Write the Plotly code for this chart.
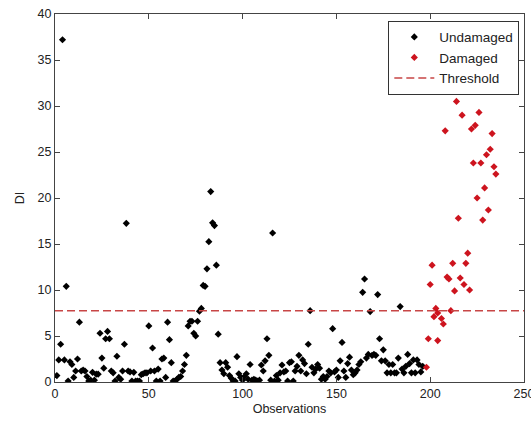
import plotly.graph_objects as go

# ---- data ----
undamaged_x = list(range(1, 197))
undamaged_y = [
    0.7, 2.4, 4.1, 37.2, 2.4, 10.4, 0.1, 2.2, 1.9, 0.5,
    1.2, 2.5, 6.5, 1.2, 1.3, 1.2, 0.6, 0.1, 0.2, 1.05,
    0.2, 0.85, 0.85, 5.3, 2.6, 1.5, 4.7, 5.5, 4.7, 1.2,
    1.0, 0.1, 2.8, 0.5, 0.3, 1.2, 4.1, 17.25, 1.2, 1.1,
    0.1, 1.05, 0.1, 0.1, 0.1, 0.8, 0.9, 1.0, 1.0, 6.1,
    1.2, 3.7, 1.2, 0.1, 1.4, 0.1, 2.5, 2.6, 0.5, 6.5,
    4.6, 2.1, 0.1, 0.1, 0.3, 0.5, 0.6, 1.2, 1.9, 2.9,
    6.1, 6.6, 6.6, 5.3, 5.0, 6.6, 7.7, 8.0, 10.5, 10.4,
    12.3, 15.25, 20.7, 17.3, 17.0, 12.7, 5.2, 2.1, 1.3, 0.9,
    2.1, 1.6, 0.7, 0.4, 0.1, 0.1, 2.75, 0.9, 0.5, 0.2,
    0.6, 0.9, 0.3, 1.9, 0.2, 0.3, 0.2, 0.1, 0.2, 1.85,
    1.2, 2.3, 4.7, 2.9, 0.2, 16.2, 0.1, 0.7, 0.2, 1.0,
    1.85, 1.1, 1.2, 0.1, 2.1, 2.2, 0.1, 1.2, 1.7, 2.9,
    1.2, 2.4, 2.0, 0.9, 4.1, 7.75, 1.6, 1.0, 1.4, 1.9,
    1.5, 0.3, 0.6, 0.3, 0.6, 1.2, 1.0, 5.8, 1.1, 1.3,
    0.5, 2.3, 4.3, 1.2, 0.5, 2.0, 2.7, 1.3, 0.8, 1.0,
    1.3, 1.9, 2.2, 9.75, 11.2, 2.6, 3.0, 7.65, 2.9, 3.0,
    2.9, 9.5, 4.7, 2.3, 3.5, 2.3, 1.0, 1.9, 1.0, 1.9,
    1.0, 1.0, 2.6, 8.2, 1.4, 1.0, 1.7, 3.0, 2.0, 1.0,
    2.4, 1.0, 2.4, 1.9, 1.1, 1.7,
]

damaged_x = [198, 199, 200, 201, 202, 203, 204, 204, 206, 207,
             208, 209, 210, 211, 212, 213, 214, 215, 216, 217,
             218, 219, 220, 221, 222, 223, 224, 225, 226, 227,
             228, 229, 230, 231, 232, 233, 234, 235]
damaged_y = [1.6, 4.7, 10.6, 12.7, 7.1, 8.0, 4.5, 7.5, 6.9, 6.3,
             27.3, 11.4, 11.2, 7.75, 12.9, 9.9, 30.5, 17.8, 11.3, 29.0,
             10.6, 12.9, 14.0, 10.0, 27.5, 23.8, 27.9, 20.0, 29.3, 23.8,
             17.6, 21.1, 24.7, 18.7, 25.3, 27.0, 23.4, 22.6]

threshold = 7.75
x_range = [0, 250]
y_range = [0, 40]
x_ticks = [0, 50, 100, 150, 200, 250]
y_ticks = [0, 5, 10, 15, 20, 25, 30, 35, 40]

FONT = "Liberation Sans, Arial, sans-serif"

fig = go.Figure()
fig.add_trace(go.Scatter(
    x=undamaged_x, y=undamaged_y, mode="markers", name="Undamaged",
    marker=dict(symbol="diamond", size=5.5, color="black", line=dict(width=0)),
))
fig.add_trace(go.Scatter(
    x=damaged_x, y=damaged_y, mode="markers", name="Damaged",
    marker=dict(symbol="diamond", size=5.5, color="rgb(205,20,30)", line=dict(width=0)),
))
fig.add_trace(go.Scatter(
    x=x_range, y=[threshold, threshold], mode="lines", name="Threshold",
    line=dict(color="rgb(200,70,70)", width=1.5, dash="8px,4px"),
))

axis_common = dict(
    showgrid=False, zeroline=False, showline=True, linecolor="#444",
    linewidth=1, mirror="ticks", ticks="inside", ticklen=5, tickcolor="#444",
    tickfont=dict(family=FONT, size=12.5, color="#222"),
    ticklabeloverflow="allow", automargin=False,
)

fig.update_layout(
    width=531, height=427,
    margin=dict(l=55, r=7, t=14, b=45),
    paper_bgcolor="white", plot_bgcolor="white",
    font=dict(family=FONT, size=12.5, color="#222"),
    xaxis=dict(range=x_range, tickvals=x_ticks, title=dict(text="Observations", standoff=4,
               font=dict(family=FONT, size=12.5, color="#222")), **axis_common),
    yaxis=dict(range=y_range, tickvals=y_ticks, title=dict(text="DI", standoff=10,
               font=dict(family=FONT, size=12.5, color="#222")), **axis_common),
    showlegend=True,
    legend=dict(
        x=0.99, y=0.982, xanchor="right", yanchor="top",
        bgcolor="white", bordercolor="#333", borderwidth=1,
        font=dict(family=FONT, size=13.5, color="#222"),
        itemwidth=40,
    ),
)

fig.write_html("out.html")
